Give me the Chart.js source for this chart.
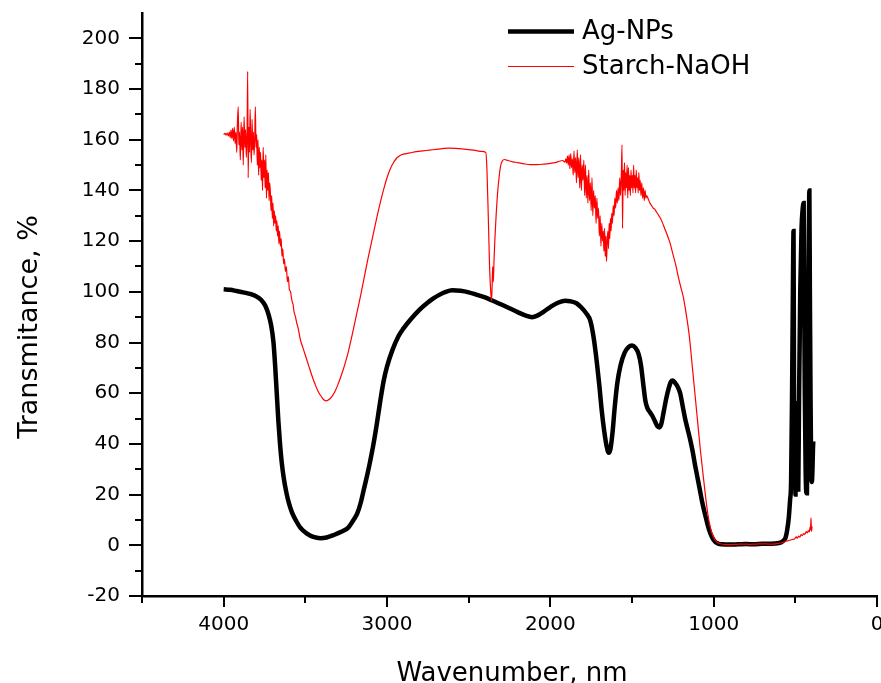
<!DOCTYPE html>
<html><head><meta charset="utf-8">
<script src="https://cdn.jsdelivr.net/npm/chart.js@4"></script>
<style>html,body{margin:0;padding:0;background:#fff}#wrap{width:881px;height:683px}</style>
</head><body><div id="wrap"><canvas id="c" width="881" height="683"></canvas></div>
<script>
const seriesLabels = ['Ag-NPs', 'Starch-NaOH'];
const xTitle = 'Wavenumber, nm';
const yTitle = 'Transmitance, %';
const xMajorTicks = [4000, 3000, 2000, 1000, 0];
const xMinorTicks = [4500, 3500, 2500, 1500, 500];
const yMajorTicks = [-20, 0, 20, 40, 60, 80, 100, 120, 140, 160, 180, 200];
const yMinorTicks = [-10, 10, 30, 50, 70, 90, 110, 130, 150, 170, 190];

const agWavenumber = [4000,3960,3920,3880,3840,3800,3770,3745,3725,3710,3695,3685,3675,3665,3655,3645,3632,3615,3600,3582,3555,3531,3490,3451,3408,3370,3328,3280,3237,3210,3182,3160,3143,3120,3102,3084,3062,3041,3020,3000,2967,2930,2900,2857,2800,2750,2716,2680,2640,2600,2550,2500,2450,2400,2360,2300,2250,2200,2150,2112,2080,2040,2000,1950,1910,1878,1840,1810,1780,1755,1735,1715,1700,1685,1670,1655,1643,1632,1620,1605,1590,1570,1545,1520,1500,1480,1460,1445,1430,1418,1405,1390,1375,1360,1345,1332,1320,1305,1290,1275,1262,1250,1235,1220,1205,1190,1175,1160,1145,1130,1115,1100,1085,1070,1050,1030,1010,990,970,950,900,850,800,750,700,650,600,586,570,560,550,540,532,526,520,515,511,508,505,502,499,496,493,490,486,482,477,470,462,456,449,446,442,437,433,429,426,421,417,414,411,407,403,399,395,392,390];
const agTransmittance = [101,100.8,100.3,99.8,99.2,98.2,96.8,94.5,91,87,80,71,60,49,40,33,26.5,20.5,16.5,13,9.5,7,4.6,3.3,2.8,3.1,4,5.3,7,9.5,12.6,17,21.7,28,33.5,39.5,48,57,65,70.5,77,82.5,85.5,89,93,95.8,97.4,98.8,100,100.6,100.4,99.8,98.8,97.8,96.7,95,93.5,92,90.6,90,90.6,92.2,94,95.8,96.5,96.3,95.5,93.8,91.5,88.5,82,72,63,53,45,39,36.5,38,44,55,64,71,76,78.3,78.8,78,75.5,71,63,57,54,52.5,51,49,47,46.5,48,53,58,62,64.5,65,64,62.5,60,55,50,46,42,37.5,32,27,22,17,11.5,6.5,3.2,1.3,0.6,0.4,0.3,0.4,0.5,0.4,0.6,0.6,0.9,1.2,2,3,6,11,18,25,60,100,124,60,30,55,20,50,56,25,45,22,60,100,125,132,135,100,60,30,21,20.5,45,90,125,140,100,60,30,25,30,38,41];

const starchWavenumber = [4000,3992,3985,3978,3971,3965,3960,3955,3950,3945,3940,3935,3930,3925,3920,3916,3911,3907,3903,3898,3893,3888,3884,3880,3875,3870,3866,3861,3856,3853,3850,3846,3842,3838,3834,3830,3826,3822,3818,3814,3810,3806,3802,3798,3794,3790,3786,3782,3778,3774,3770,3766,3762,3758,3754,3750,3746,3742,3738,3734,3730,3726,3722,3718,3714,3710,3706,3702,3698,3694,3690,3686,3682,3678,3674,3670,3666,3662,3658,3653,3648,3643,3638,3633,3628,3622,3616,3610,3604,3598,3590,3585,3580,3575,3570,3560,3552,3545,3530,3515,3500,3480,3460,3440,3420,3400,3385,3370,3355,3340,3320,3300,3280,3260,3240,3220,3200,3180,3160,3140,3120,3100,3080,3060,3040,3020,3000,2980,2960,2940,2920,2900,2860,2820,2780,2740,2700,2660,2620,2580,2540,2500,2460,2420,2395,2388,2380,2372,2365,2360,2356,2353,2349,2345,2340,2332,2323,2314,2305,2295,2280,2260,2230,2200,2160,2120,2080,2040,2000,1970,1945,1925,1910,1905,1900,1895,1890,1885,1880,1875,1870,1865,1860,1855,1850,1845,1840,1835,1830,1825,1820,1815,1810,1805,1800,1795,1790,1785,1780,1775,1770,1765,1760,1755,1750,1745,1740,1735,1730,1725,1720,1715,1710,1705,1700,1695,1690,1685,1680,1676,1672,1668,1664,1660,1656,1652,1648,1644,1640,1636,1632,1628,1624,1620,1615,1610,1605,1600,1595,1590,1585,1580,1575,1570,1565,1561,1558,1554,1550,1546,1542,1538,1534,1530,1526,1522,1518,1514,1510,1506,1502,1498,1494,1490,1486,1482,1478,1474,1470,1466,1462,1458,1454,1450,1445,1440,1435,1430,1425,1420,1415,1410,1400,1390,1380,1370,1360,1350,1340,1330,1315,1300,1285,1266,1250,1230,1215,1200,1186,1170,1150,1130,1115,1100,1082,1065,1050,1035,1020,1005,990,975,960,940,900,860,820,780,740,700,660,620,600,580,565,550,535,520,505,495,488,480,472,465,457,450,442,434,427,420,414,410,407,404,401,398];
const starchTransmittance = [162,162.5,161.8,162.6,161.5,163,160.8,163.8,160.5,164.5,159.5,165,158.5,163,155,166,173,158,163,152,167,156,165,150,169,157,164,153,166,187,145,165,155,172,158,151,168,156,163,154,160,173,157,162,150,160,146,157,149,155,144,152,140,157,145,152,141,154,137,148,140,147,136,143,139,132,138,129,135,126,132,127,130,124,128,122,126,119,124,118,121,114,117,111,113,108,110,104,106,101,100,97.5,96,95,92.5,90,87.5,86,81,78,75,71,67,63.5,60.5,58.5,57.3,57,57.5,58.5,60.5,63.5,67,71,75.5,81,87,93,99,105.5,112,118,124,130,135.5,140.5,145,148.5,151,152.8,153.8,154.3,154.8,155.3,155.6,155.9,156.2,156.5,156.7,156.6,156.4,156.1,155.8,155.4,155,148,130,110,100,96.5,103,110,104,112,120,130,139,145,149.5,151.5,152.2,151.8,151.3,151,150.5,150.2,150.2,150.4,150.7,151,151.5,151.8,151.2,152.5,150.8,153.5,150,154,148.5,154.5,149,152.5,146,155.5,147,153,143,156,145,153,141,154,140,150,144,152,138,150,137,146,135,148,136,143,132,145,130,140,133,138,127,137,129,133,122,130,118,127,120,124,116,125,114,122,112,120,124,117,127,121,129,124,131,127,134,130,137,133,140,135,141,136,145,138,147,158,125,148,140,151,138,147,141,150,137,149,140,146,138,148,141,146,139,150,141,146,139,148,141,145,139,147,140,144,138,143,137,141,136,140,137,138,136.5,135,134,133,132.5,131.5,130.5,129.5,127.5,125,122.5,119,115,110,105.5,101.5,98,92,83,70,60,50,38,28,19.5,12,7,3.8,2,1,0.6,0.4,0.3,0.4,0.5,0.4,0.5,0.6,0.5,0.6,0.8,1.1,1.4,1.7,2,2.3,2.5,3.3,2.8,3.6,3.2,4.2,3.8,4.6,4.3,5.4,4.9,5.8,5.3,7.2,6,10.8,5.5,7.5];

const FONT = "'DejaVu Sans', sans-serif";

const decorPlugin = {
  id: 'decor',
  afterDraw(chart) {
    const ctx = chart.ctx, xs = chart.scales.x, ys = chart.scales.y, ca = chart.chartArea;
    ctx.save();
    ctx.strokeStyle = '#000';
    ctx.lineWidth = 2;
    const yt = (v, len) => { const y = Math.round(ys.getPixelForValue(v)); ctx.beginPath(); ctx.moveTo(ca.left - len, y); ctx.lineTo(ca.left, y); ctx.stroke(); };
    const xt = (v, len) => { const x = Math.round(xs.getPixelForValue(v)); ctx.beginPath(); ctx.moveTo(x, ca.bottom); ctx.lineTo(x, ca.bottom + len); ctx.stroke(); };
    yMajorTicks.forEach(v => yt(v, 13));
    yMinorTicks.forEach(v => yt(v, 7));
    xMajorTicks.forEach(v => xt(v, 11));
    xMinorTicks.forEach(v => xt(v, 7));
    ctx.fillStyle = '#000';
    ctx.font = "26px " + FONT;
    ctx.textAlign = 'center';
    ctx.textBaseline = 'alphabetic';
    ctx.fillText(xTitle, 512, 681);
    ctx.save();
    ctx.translate(37, 327);
    ctx.rotate(-Math.PI / 2);
    ctx.font = "27px " + FONT;
    ctx.fillText(yTitle, 0, 0);
    ctx.restore();
    const rows = [31.5, 66.5];
    ctx.textAlign = 'left';
    ctx.textBaseline = 'middle';
    ctx.font = "26px " + FONT;
    chart.data.datasets.forEach((ds, i) => {
      ctx.strokeStyle = ds.borderColor;
      ctx.lineWidth = ds.borderWidth;
      ctx.beginPath(); ctx.moveTo(508, rows[i]); ctx.lineTo(574, rows[i]); ctx.stroke();
      ctx.fillStyle = '#000';
      ctx.fillText(ds.label, 582, rows[i] + 1);
    });
    ctx.restore();
  }
};

new Chart(document.getElementById('c'), {
  type: 'scatter',
  data: {
    datasets: [
      { label: seriesLabels[0], data: agWavenumber.map((x, i) => ({ x, y: agTransmittance[i] })),
        showLine: true, borderColor: '#000000', borderWidth: 4.5, pointRadius: 0, cubicInterpolationMode: 'monotone', order: 1 },
      { label: seriesLabels[1], data: starchWavenumber.map((x, i) => ({ x, y: starchTransmittance[i] })),
        showLine: true, borderColor: '#ff0000', borderWidth: 1.2, pointRadius: 0, cubicInterpolationMode: 'monotone', order: 0 }
    ]
  },
  options: {
    responsive: false, animation: false, devicePixelRatio: 1,
    layout: { padding: { top: 13, right: 4, left: 0, bottom: 0 } },
    plugins: { legend: { display: false }, tooltip: { enabled: false }, title: { display: false } },
    scales: {
      x: {
        type: 'linear', reverse: true, min: 0, max: 4500,
        grid: { display: false, drawTicks: false },
        border: { display: true, color: '#000', width: 2.5 },
        ticks: { stepSize: 500, autoSkip: false, maxRotation: 0, padding: 17, color: '#000',
          font: { family: FONT, size: 20 },
          callback: v => xMajorTicks.includes(Math.round(v)) ? String(Math.round(v)) : '' },
        afterFit: s => { s.height = 87; s.paddingLeft = 0; s.paddingRight = 0; }
      },
      y: {
        min: -20, max: 210,
        grid: { display: false, drawTicks: false },
        border: { display: true, color: '#000', width: 2.5 },
        ticks: { stepSize: 10, autoSkip: false, padding: 22, color: '#000',
          font: { family: FONT, size: 20 },
          callback: v => yMajorTicks.includes(Math.round(v)) ? String(Math.round(v)) : '' },
        afterFit: s => { s.width = 142; s.paddingTop = 0; s.paddingBottom = 0; }
      }
    }
  },
  plugins: [decorPlugin]
});
</script></body></html>
